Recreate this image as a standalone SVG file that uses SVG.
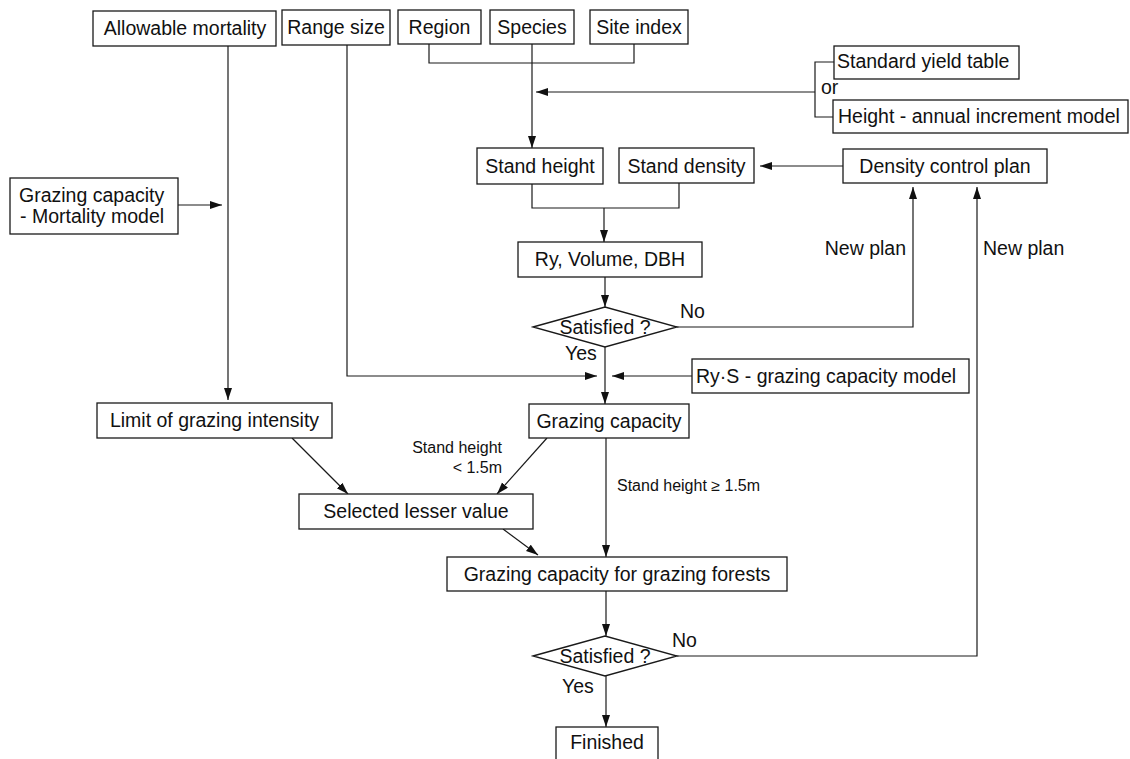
<svg xmlns="http://www.w3.org/2000/svg" width="1130" height="759" viewBox="0 0 1130 759">
  <style>
    .box { fill: #fff; stroke: #1a1a1a; stroke-width: 1.3; }
    .t { font-family: "Liberation Sans", Arial, sans-serif; font-size: 19.5px; fill: #111; text-anchor: middle; }
    .l { font-family: "Liberation Sans", Arial, sans-serif; font-size: 19.5px; fill: #111; }
    .s { font-family: "Liberation Sans", Arial, sans-serif; font-size: 16px; fill: #111; }
    .c { fill: none; stroke: #1a1a1a; stroke-width: 1.2; }
  </style>
  <defs>
    <marker id="arrow" markerUnits="userSpaceOnUse" markerWidth="13" markerHeight="9" refX="12" refY="4" orient="auto">
      <path d="M0,0 L12,4 L0,8 z" fill="#111"/>
    </marker>
  </defs>
  <rect width="1130" height="759" fill="#fff"/>

  <!-- connectors -->
  <g id="connectors">
    <path class="c" d="M228,46 V400" marker-end="url(#arrow)"/>
    <path class="c" d="M178,205 H222" marker-end="url(#arrow)"/>
    <path class="c" d="M347,45 V376 H597" marker-end="url(#arrow)"/>
    <path class="c" d="M429,44 V63 H634 V44"/>
    <path class="c" d="M532,44 V148" marker-end="url(#arrow)"/>
    <path class="c" d="M834,62 H815 V117 H833"/>
    <path class="c" d="M815,92 H536" marker-end="url(#arrow)"/>
    <path class="c" d="M843,166 H760" marker-end="url(#arrow)"/>
    <path class="c" d="M532,184 V208 H679 V183"/>
    <path class="c" d="M604,208 V242" marker-end="url(#arrow)"/>
    <path class="c" d="M605,277 V307" marker-end="url(#arrow)"/>
    <path class="c" d="M677,327 H913 V187" marker-end="url(#arrow)"/>
    <path class="c" d="M605,347 V404" marker-end="url(#arrow)"/>
    <path class="c" d="M692,376 H612" marker-end="url(#arrow)"/>
    <path class="c" d="M547,438 L497,494" marker-end="url(#arrow)"/>
    <path class="c" d="M292,438 L348,494" marker-end="url(#arrow)"/>
    <path class="c" d="M606,438 V557" marker-end="url(#arrow)"/>
    <path class="c" d="M503,529 L538,555" marker-end="url(#arrow)"/>
    <path class="c" d="M606,591 V636" marker-end="url(#arrow)"/>
    <path class="c" d="M677,656 H977 V187" marker-end="url(#arrow)"/>
    <path class="c" d="M606,676 V727" marker-end="url(#arrow)"/>
  </g>

  <!-- connector labels -->
  <g id="labels">
    <text class="l" x="821" y="94">or</text>
    <text class="l" x="906" y="255" text-anchor="end">New plan</text>
    <text class="l" x="983" y="255">New plan</text>
    <text class="l" x="680" y="318">No</text>
    <text class="l" x="565" y="360">Yes</text>
    <text class="s" x="502" y="453" text-anchor="end">Stand height</text>
    <text class="s" x="502" y="473" text-anchor="end">&lt; 1.5m</text>
    <text class="s" x="617" y="491">Stand height ≥ 1.5m</text>
    <text class="l" x="672" y="647">No</text>
    <text class="l" x="562" y="693">Yes</text>
  </g>

  <g id="allowable-mortality">
    <rect class="box" x="93" y="11" width="183" height="35"/>
    <text class="t" x="185" y="35">Allowable mortality</text>
  </g>
  <g id="range-size">
    <rect class="box" x="282" y="10" width="108" height="35"/>
    <text class="t" x="336" y="34">Range size</text>
  </g>
  <g id="region">
    <rect class="box" x="398" y="10" width="83" height="34"/>
    <text class="t" x="439.5" y="34">Region</text>
  </g>
  <g id="species">
    <rect class="box" x="490" y="10" width="84" height="34"/>
    <text class="t" x="532" y="34">Species</text>
  </g>
  <g id="site-index">
    <rect class="box" x="590" y="10" width="98" height="34"/>
    <text class="t" x="639" y="34">Site index</text>
  </g>
  <g id="standard-yield-table">
    <rect class="box" x="834" y="46" width="185" height="33"/>
    <text class="l" x="837" y="68">Standard yield table</text>
  </g>
  <g id="height-increment-model">
    <rect class="box" x="833" y="100" width="295" height="33"/>
    <text class="l" x="838" y="123">Height - annual increment model</text>
  </g>
  <g id="stand-height">
    <rect class="box" x="477" y="148" width="126" height="36"/>
    <text class="t" x="540" y="173">Stand height</text>
  </g>
  <g id="stand-density">
    <rect class="box" x="619" y="148" width="135" height="35"/>
    <text class="t" x="686.5" y="173">Stand density</text>
  </g>
  <g id="density-control-plan">
    <rect class="box" x="843" y="149" width="204" height="34"/>
    <text class="t" x="945" y="173">Density control plan</text>
  </g>
  <g id="mortality-model">
    <rect class="box" x="10" y="178" width="168" height="56"/>
    <text class="l" x="19" y="202">Grazing capacity</text>
    <text class="l" x="20" y="223"> - Mortality model</text>
  </g>
  <g id="ry-volume-dbh">
    <rect class="box" x="518" y="242" width="184" height="35"/>
    <text class="t" x="610" y="266">Ry, Volume, DBH</text>
  </g>
  <g id="satisfied-1">
    <polygon class="box" points="533,327 605,307 677,327 605,347"/>
    <text class="t" x="605" y="334">Satisfied ?</text>
  </g>
  <g id="rys-model">
    <rect class="box" x="692" y="359" width="277" height="34"/>
    <text class="l" x="696" y="383">Ry·S - grazing capacity model</text>
  </g>
  <g id="limit-grazing-intensity">
    <rect class="box" x="97" y="403" width="235" height="35"/>
    <text class="t" x="214.5" y="427">Limit of grazing intensity</text>
  </g>
  <g id="grazing-capacity">
    <rect class="box" x="529" y="404" width="160" height="34"/>
    <text class="t" x="609" y="428">Grazing capacity</text>
  </g>
  <g id="selected-lesser-value">
    <rect class="box" x="299" y="494" width="234" height="35"/>
    <text class="t" x="416" y="518">Selected lesser value</text>
  </g>
  <g id="grazing-forests">
    <rect class="box" x="447" y="557" width="340" height="34"/>
    <text class="t" x="617" y="581">Grazing capacity for grazing forests</text>
  </g>
  <g id="satisfied-2">
    <polygon class="box" points="533,656 605,636 677,656 605,676"/>
    <text class="t" x="605" y="663">Satisfied ?</text>
  </g>
  <g id="finished">
    <rect class="box" x="556" y="727" width="102" height="40"/>
    <text class="t" x="607" y="749">Finished</text>
  </g>
</svg>
